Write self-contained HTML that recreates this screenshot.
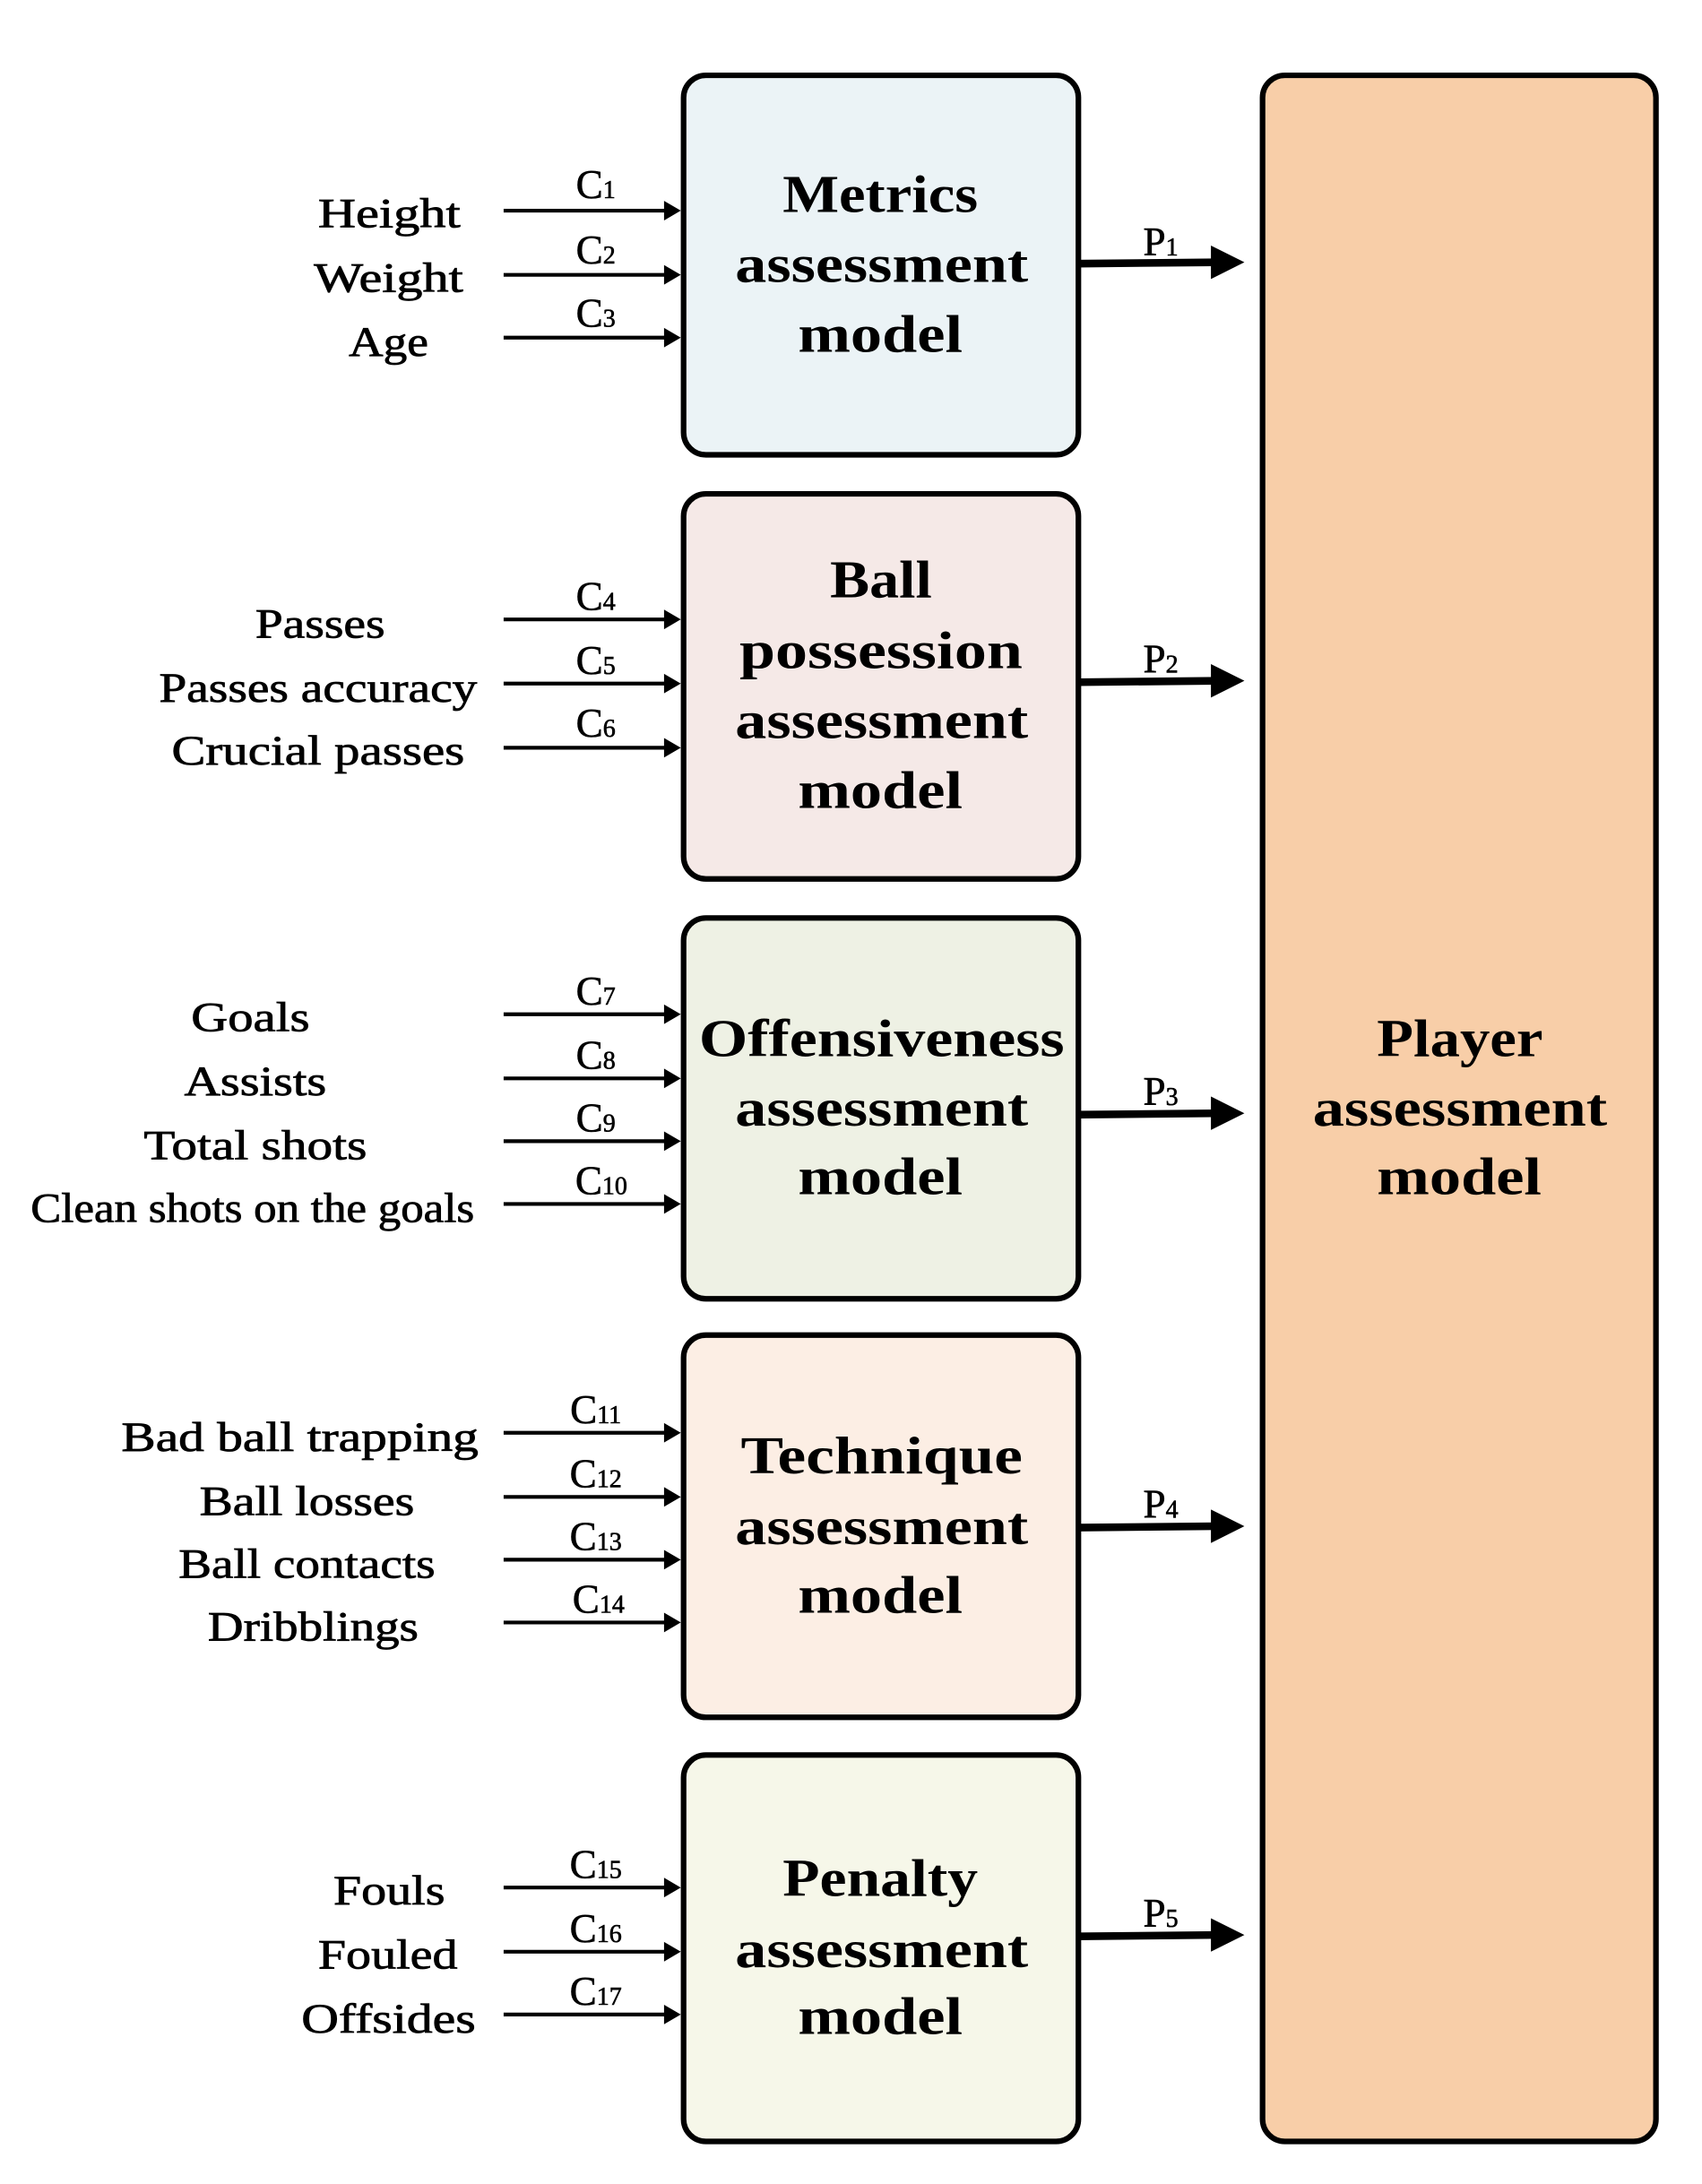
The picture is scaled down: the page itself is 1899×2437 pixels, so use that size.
<!DOCTYPE html>
<html><head><meta charset="utf-8"><style>html,body{margin:0;padding:0;background:#fff}svg{display:block}</style></head>
<body>
<svg width="1899" height="2437" viewBox="0 0 1220 1565.5" preserveAspectRatio="none" xmlns="http://www.w3.org/2000/svg" font-family="'Liberation Serif', serif">
<g stroke="#000" stroke-width="4">
<rect x="490" y="54" width="283" height="272" rx="16" fill="#ebf3f6"/>
<rect x="490" y="354" width="283" height="276" rx="16" fill="#f5e9e7"/>
<rect x="490" y="658" width="283" height="273" rx="16" fill="#eef1e4"/>
<rect x="490" y="957" width="283" height="274" rx="16" fill="#fceee4"/>
<rect x="490" y="1258" width="283" height="277" rx="16" fill="#f6f7e9"/>
<rect x="905" y="54" width="282" height="1481" rx="16" fill="#f8cea8"/>
</g>
<g stroke="#000" stroke-width="2.7">
<line x1="361" y1="151" x2="478" y2="151"/><line x1="361" y1="197" x2="478" y2="197"/><line x1="361" y1="242" x2="478" y2="242"/>
<line x1="361" y1="444" x2="478" y2="444"/><line x1="361" y1="490" x2="478" y2="490"/><line x1="361" y1="536" x2="478" y2="536"/>
<line x1="361" y1="727" x2="478" y2="727"/><line x1="361" y1="773" x2="478" y2="773"/><line x1="361" y1="818" x2="478" y2="818"/><line x1="361" y1="863" x2="478" y2="863"/>
<line x1="361" y1="1027" x2="478" y2="1027"/><line x1="361" y1="1073" x2="478" y2="1073"/><line x1="361" y1="1118" x2="478" y2="1118"/><line x1="361" y1="1163" x2="478" y2="1163"/>
<line x1="361" y1="1353" x2="478" y2="1353"/><line x1="361" y1="1399" x2="478" y2="1399"/><line x1="361" y1="1444" x2="478" y2="1444"/>
</g>
<g fill="#000">
<polygon points="476,144 488,151 476,158"/><polygon points="476,190 488,197 476,204"/><polygon points="476,235 488,242 476,249"/>
<polygon points="476,437 488,444 476,451"/><polygon points="476,483 488,490 476,497"/><polygon points="476,529 488,536 476,543"/>
<polygon points="476,720 488,727 476,734"/><polygon points="476,766 488,773 476,780"/><polygon points="476,811 488,818 476,825"/><polygon points="476,856 488,863 476,870"/>
<polygon points="476,1020 488,1027 476,1034"/><polygon points="476,1066 488,1073 476,1080"/><polygon points="476,1111 488,1118 476,1125"/><polygon points="476,1156 488,1163 476,1170"/>
<polygon points="476,1346 488,1353 476,1360"/><polygon points="476,1392 488,1399 476,1406"/><polygon points="476,1437 488,1444 476,1451"/>
</g>
<g stroke="#000" stroke-width="5.5">
<line x1="772" y1="189" x2="872" y2="188"/><line x1="772" y1="489" x2="872" y2="488"/><line x1="772" y1="799" x2="872" y2="798"/><line x1="772" y1="1095" x2="872" y2="1094"/><line x1="772" y1="1388" x2="872" y2="1387"/>
</g>
<g fill="#000">
<polygon points="868,176 892,188 868,200"/><polygon points="868,476 892,488 868,500"/><polygon points="868,786 892,798 868,810"/><polygon points="868,1082 892,1094 868,1106"/><polygon points="868,1375 892,1387 868,1399"/>
</g>
<g font-size="29" text-anchor="middle" stroke="#000" stroke-width="0.4">
<text x="832" y="183">P<tspan font-size="18">1</tspan></text>
<text x="832" y="482">P<tspan font-size="18">2</tspan></text>
<text x="832" y="792">P<tspan font-size="18">3</tspan></text>
<text x="832" y="1088">P<tspan font-size="18">4</tspan></text>
<text x="832" y="1381">P<tspan font-size="18">5</tspan></text>
<text x="427" y="142">C<tspan font-size="18">1</tspan></text>
<text x="427" y="189">C<tspan font-size="18">2</tspan></text>
<text x="427" y="234">C<tspan font-size="18">3</tspan></text>
<text x="427" y="437">C<tspan font-size="18">4</tspan></text>
<text x="427" y="483">C<tspan font-size="18">5</tspan></text>
<text x="427" y="528">C<tspan font-size="18">6</tspan></text>
<text x="427" y="720">C<tspan font-size="18">7</tspan></text>
<text x="427" y="766">C<tspan font-size="18">8</tspan></text>
<text x="427" y="811">C<tspan font-size="18">9</tspan></text>
<text x="431" y="856">C<tspan font-size="18">10</tspan></text>
<text x="427" y="1020">C<tspan font-size="18">11</tspan></text>
<text x="427" y="1066">C<tspan font-size="18">12</tspan></text>
<text x="427" y="1111">C<tspan font-size="18">13</tspan></text>
<text x="429" y="1156">C<tspan font-size="18">14</tspan></text>
<text x="427" y="1346">C<tspan font-size="18">15</tspan></text>
<text x="427" y="1392">C<tspan font-size="18">16</tspan></text>
<text x="427" y="1437">C<tspan font-size="18">17</tspan></text>
</g>
<g font-size="30" stroke="#000" stroke-width="0.5">
<text x="228" y="163" textLength="102" lengthAdjust="spacingAndGlyphs">Height</text>
<text x="225" y="209" textLength="107" lengthAdjust="spacingAndGlyphs">Weight</text>
<text x="250" y="255" textLength="57" lengthAdjust="spacingAndGlyphs">Age</text>
<text x="183" y="457" textLength="93" lengthAdjust="spacingAndGlyphs">Passes</text>
<text x="114" y="503" textLength="228" lengthAdjust="spacingAndGlyphs">Passes accuracy</text>
<text x="123" y="548" textLength="210" lengthAdjust="spacingAndGlyphs">Crucial passes</text>
<text x="137" y="739" textLength="85" lengthAdjust="spacingAndGlyphs">Goals</text>
<text x="132" y="785" textLength="102" lengthAdjust="spacingAndGlyphs">Assists</text>
<text x="103" y="831" textLength="160" lengthAdjust="spacingAndGlyphs">Total shots</text>
<text x="22" y="876" textLength="318" lengthAdjust="spacingAndGlyphs">Clean shots on the goals</text>
<text x="87" y="1040" textLength="256" lengthAdjust="spacingAndGlyphs">Bad ball trapping</text>
<text x="143" y="1086" textLength="154" lengthAdjust="spacingAndGlyphs">Ball losses</text>
<text x="128" y="1131" textLength="184" lengthAdjust="spacingAndGlyphs">Ball contacts</text>
<text x="149" y="1176" textLength="151" lengthAdjust="spacingAndGlyphs">Dribblings</text>
<text x="239" y="1365" textLength="80" lengthAdjust="spacingAndGlyphs">Fouls</text>
<text x="228" y="1411" textLength="100" lengthAdjust="spacingAndGlyphs">Fouled</text>
<text x="216" y="1457" textLength="125" lengthAdjust="spacingAndGlyphs">Offsides</text>
</g>
<g font-size="38" font-weight="bold">
<text x="561" y="152" textLength="140" lengthAdjust="spacingAndGlyphs">Metrics</text>
<text x="527" y="202" textLength="210" lengthAdjust="spacingAndGlyphs">assessment</text>
<text x="572" y="252" textLength="118" lengthAdjust="spacingAndGlyphs">model</text>
<text x="595" y="428" textLength="73" lengthAdjust="spacingAndGlyphs">Ball</text>
<text x="530" y="479" textLength="203" lengthAdjust="spacingAndGlyphs">possession</text>
<text x="527" y="529" textLength="210" lengthAdjust="spacingAndGlyphs">assessment</text>
<text x="572" y="579" textLength="118" lengthAdjust="spacingAndGlyphs">model</text>
<text x="501" y="757" textLength="262" lengthAdjust="spacingAndGlyphs">Offensiveness</text>
<text x="527" y="807" textLength="210" lengthAdjust="spacingAndGlyphs">assessment</text>
<text x="572" y="856" textLength="118" lengthAdjust="spacingAndGlyphs">model</text>
<text x="531" y="1056" textLength="202" lengthAdjust="spacingAndGlyphs">Technique</text>
<text x="527" y="1107" textLength="210" lengthAdjust="spacingAndGlyphs">assessment</text>
<text x="572" y="1156" textLength="118" lengthAdjust="spacingAndGlyphs">model</text>
<text x="561" y="1359" textLength="140" lengthAdjust="spacingAndGlyphs">Penalty</text>
<text x="527" y="1410" textLength="210" lengthAdjust="spacingAndGlyphs">assessment</text>
<text x="572" y="1458" textLength="118" lengthAdjust="spacingAndGlyphs">model</text>
<text x="987" y="757" textLength="119" lengthAdjust="spacingAndGlyphs">Player</text>
<text x="941" y="807" textLength="211" lengthAdjust="spacingAndGlyphs">assessment</text>
<text x="987" y="856" textLength="118" lengthAdjust="spacingAndGlyphs">model</text>
</g>
</svg>
</body></html>
